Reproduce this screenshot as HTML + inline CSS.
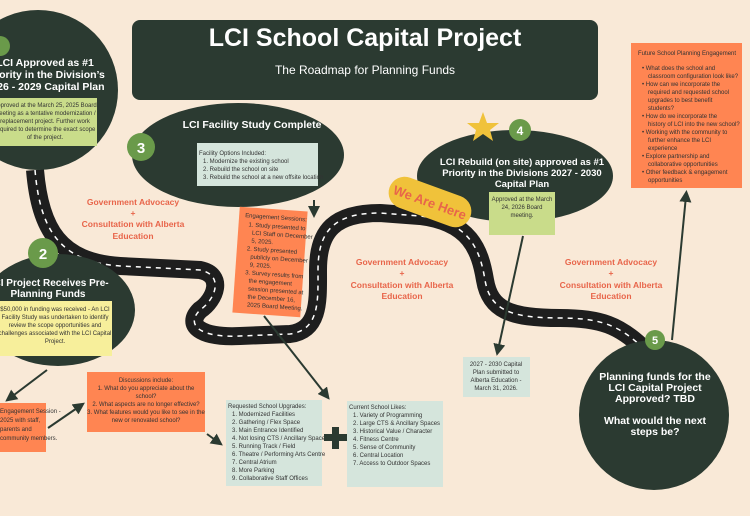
<!DOCTYPE html>
<html><head><meta charset="utf-8"><style>
body{margin:0;background:#f9e9d7;}
svg{display:block;font-family:"Liberation Sans",sans-serif;}
.w{fill:#fff;font-weight:bold;text-anchor:middle}
.s{fill:#e8654a;font-weight:bold;font-size:8.5px;text-anchor:middle}
.t{font-size:6px;fill:#333}
</style></head><body>
<svg width="750" height="516" viewBox="0 0 750 516">
<rect width="750" height="516" fill="#f9e9d7"/>
<defs><marker id="a" markerWidth="6" markerHeight="6" refX="3" refY="3" orient="auto"><path d="M0,0L6,3L0,6z" fill="#2b3a31"/></marker></defs>
<path d="M35,170 C40,230 60,262 120,266 L200,270 C225,275 215,300 200,310 C185,325 200,338 240,336 L290,334 C320,330 318,300 318,270 C318,230 335,213 380,213 L420,216 C470,222 480,250 485,280 C490,310 510,318 560,318 C600,318 620,325 645,350" fill="none" stroke="#1e1e1e" stroke-width="18"/>
<path d="M35,170 C40,230 60,262 120,266 L200,270 C225,275 215,300 200,310 C185,325 200,338 240,336 L290,334 C320,330 318,300 318,270 C318,230 335,213 380,213 L420,216 C470,222 480,250 485,280 C490,310 510,318 560,318 C600,318 620,325 645,350" fill="none" stroke="#fff" stroke-width="1.5" stroke-dasharray="5 5"/>
<rect x="132" y="20" width="466" height="80" rx="8" fill="#2b3a31"/>
<text x="365" y="46" class="w" font-size="25">LCI School Capital Project</text>
<text x="365" y="74" fill="#fff" font-size="12" text-anchor="middle">The Roadmap for Planning Funds</text>
<circle cx="38" cy="90" r="80" fill="#2b3a31"/>
<circle cx="0" cy="46" r="10" fill="#6a9a4a"/>
<text x="45" y="66" class="w" font-size="10.5">LCI Approved as #1</text>
<text x="45" y="78" class="w" font-size="10.5">Priority in the Division’s</text>
<text x="45" y="90" class="w" font-size="10.5">2026 - 2029 Capital Plan</text>
<rect x="-5" y="98" width="102" height="48" fill="#c9dc8a"/>
<g class="t" font-size="5.1" text-anchor="middle"><text x="45" y="107">Approved at the March 25, 2025 Board</text><text x="45" y="115">meeting as a tentative modernization /</text><text x="45" y="123">replacement project. Further work</text><text x="45" y="131">required to determine the exact scope</text><text x="45" y="139">of the project.</text></g>
<ellipse cx="238" cy="155" rx="106" ry="52" fill="#2b3a31"/>
<text x="252" y="128" class="w" font-size="10.5">LCI Facility Study Complete</text>
<circle cx="141" cy="147" r="14" fill="#6a9a4a"/><text x="141" y="153" class="w" font-size="15">3</text>
<rect x="197" y="143" width="121" height="43" fill="#d5e5dc"/>
<g class="t" font-size="4.9"><text x="199" y="155">Facility Options Included:</text><text x="203" y="163">1. Modernize the existing school</text><text x="203" y="171">2. Rebuild the school on site</text><text x="203" y="179">3. Rebuild the school at a new offsite location</text></g>
<line x1="314" y1="200" x2="314" y2="212" stroke="#2b3a31" stroke-width="2" marker-end="url(#a)"/>
<g transform="rotate(4 270 262)"><rect x="236" y="209" width="68" height="106" fill="#ff8552"/>
<g class="t" font-size="5.2"><text x="242" y="219">Engagement Sessions:</text><text x="246" y="228">1. Study presented to</text><text x="250" y="236">LCI Staff on December</text><text x="250" y="244">5, 2025.</text><text x="246" y="252">2. Study presented</text><text x="250" y="260">publicly on December</text><text x="250" y="268">9, 2025.</text><text x="246" y="276">3. Survey results from</text><text x="250" y="284">the engagement</text><text x="250" y="292">session presented at</text><text x="250" y="300">the December 16,</text><text x="250" y="308">2025 Board Meeting.</text></g></g>
<line x1="264" y1="316" x2="326" y2="395" stroke="#2b3a31" stroke-width="2" marker-end="url(#a)"/>
<g class="s"><text x="133" y="205">Government Advocacy</text><text x="133" y="216">+</text><text x="133" y="227">Consultation with Alberta</text><text x="133" y="239">Education</text>
<text x="402" y="265">Government Advocacy</text><text x="402" y="276">+</text><text x="402" y="288">Consultation with Alberta</text><text x="402" y="299">Education</text>
<text x="611" y="265">Government Advocacy</text><text x="611" y="276">+</text><text x="611" y="288">Consultation with Alberta</text><text x="611" y="299">Education</text></g>
<ellipse cx="58" cy="310" rx="77" ry="56" fill="#2b3a31"/>
<circle cx="43" cy="253" r="15" fill="#6a9a4a"/><text x="43" y="259" class="w" font-size="15">2</text>
<text x="48" y="286" class="w" font-size="10">LCI Project Receives Pre-</text>
<text x="48" y="297" class="w" font-size="10">Planning Funds</text>
<rect x="-5" y="301" width="117" height="55" fill="#f7ef9b"/>
<g class="t" font-size="5.1" text-anchor="middle"><text x="55" y="311">$50,000 in funding was received - An LCI</text><text x="55" y="319">Facility Study was undertaken to identify</text><text x="55" y="327">review the scope opportunities and</text><text x="55" y="335">challenges associated with the LCI Capital</text><text x="55" y="343">Project.</text></g>
<line x1="47" y1="370" x2="10" y2="398" stroke="#2b3a31" stroke-width="2" marker-end="url(#a)"/>
<rect x="-5" y="403" width="51" height="49" fill="#ff8552"/>
<g class="t" font-size="5.3"><text x="0" y="413">Engagement Session -</text><text x="0" y="422">2025 with staff,</text><text x="0" y="431">parents and</text><text x="0" y="440">community members.</text></g>
<line x1="48" y1="428" x2="80" y2="406" stroke="#2b3a31" stroke-width="2" marker-end="url(#a)"/>
<rect x="87" y="372" width="118" height="60" fill="#ff8552"/>
<g class="t" font-size="5.3" text-anchor="middle"><text x="146" y="382">Discussions include:</text><text x="146" y="390">1. What do you appreciate about the</text><text x="146" y="398">school?</text><text x="146" y="406">2. What aspects are no longer effective?</text><text x="146" y="414">3. What features would you like to see in the</text><text x="146" y="422">new or renovated school?</text></g>
<line x1="207" y1="434" x2="218" y2="442" stroke="#2b3a31" stroke-width="2" marker-end="url(#a)"/>
<rect x="226" y="400" width="96" height="86" fill="#d5e5dc"/>
<g class="t" font-size="5"><text x="228" y="408">Requested School Upgrades:</text><text x="232" y="416">1. Modernized Facilities</text><text x="232" y="424">2. Gathering / Flex Space</text><text x="232" y="432">3. Main Entrance Identified</text><text x="232" y="440">4. Not losing CTS / Ancillary Space</text><text x="232" y="448">5. Running Track / Field</text><text x="232" y="456">6. Theatre / Performing Arts Centre</text><text x="232" y="464">7. Central Atrium</text><text x="232" y="472">8. More Parking</text><text x="232" y="480">9. Collaborative Staff Offices</text></g>
<path d="M324,434h8v-7h7v7h8v7h-8v8h-7v-8h-8z" fill="#2b3a31"/>
<rect x="347" y="401" width="96" height="86" fill="#d5e5dc"/>
<g class="t" font-size="5"><text x="349" y="409">Current School Likes:</text><text x="353" y="417">1. Variety of Programming</text><text x="353" y="425">2. Large CTS &amp; Ancillary Spaces</text><text x="353" y="433">3. Historical Value / Character</text><text x="353" y="441">4. Fitness Centre</text><text x="353" y="449">5. Sense of Community</text><text x="353" y="457">6. Central Location</text><text x="353" y="465">7. Access to Outdoor Spaces</text></g>
<ellipse cx="515" cy="176" rx="98" ry="46" fill="#2b3a31"/>
<path d="M483,112l4,11 12,0 -9,7 3,11 -10,-7 -10,7 3,-11 -9,-7 12,0z" fill="#f0c23a"/>
<circle cx="520" cy="130" r="11" fill="#6a9a4a"/><text x="520" y="135" class="w" font-size="12">4</text>
<text x="522" y="165" class="w" font-size="9.5">LCI Rebuild (on site) approved as #1</text>
<text x="522" y="176" class="w" font-size="9.5">Priority in the Divisions 2027 - 2030</text>
<text x="522" y="187" class="w" font-size="9.5">Capital Plan</text>
<rect x="489" y="192" width="66" height="43" fill="#c9dc8a"/>
<g class="t" font-size="5.1" text-anchor="middle"><text x="522" y="201">Approved at the March</text><text x="522" y="209">24, 2026 Board</text><text x="522" y="217">meeting.</text></g>
<g transform="rotate(20 430 202)"><rect x="387" y="186" width="86" height="32" rx="16" fill="#f0c23a"/><text x="430" y="207" fill="#e8654a" font-weight="bold" font-size="13" text-anchor="middle">We Are Here</text></g>
<line x1="523" y1="236" x2="498" y2="350" stroke="#2b3a31" stroke-width="2" marker-end="url(#a)"/>
<rect x="463" y="357" width="67" height="40" fill="#d5e5dc"/>
<g class="t" font-size="5" text-anchor="middle"><text x="496" y="366">2027 - 2030 Capital</text><text x="496" y="374">Plan submitted to</text><text x="496" y="382">Alberta Education -</text><text x="496" y="390">March 31, 2026.</text></g>
<circle cx="654" cy="415" r="75" fill="#2b3a31"/>
<circle cx="655" cy="340" r="10" fill="#6a9a4a"/><text x="655" y="344" class="w" font-size="11">5</text>
<g class="w" font-size="10.5"><text x="655" y="380">Planning funds for the</text><text x="655" y="391">LCI Capital Project</text><text x="655" y="402">Approved? TBD</text><text x="655" y="424">What would the next</text><text x="655" y="435">steps be?</text></g>
<line x1="672" y1="340" x2="686" y2="196" stroke="#2b3a31" stroke-width="2" marker-end="url(#a)"/>
<rect x="631" y="43" width="111" height="145" fill="#ff8552"/>
<g class="t" font-size="5.1"><text x="638" y="55">Future School Planning Engagement</text>
<text x="642" y="70">•  What does the school and</text><text x="648" y="78">classroom configuration look like?</text>
<text x="642" y="86">•  How can we incorporate the</text><text x="648" y="94">required and requested school</text><text x="648" y="102">upgrades to best benefit</text><text x="648" y="110">students?</text>
<text x="642" y="118">•  How do we incorporate the</text><text x="648" y="126">history of LCI into the new school?</text>
<text x="642" y="134">•  Working with the community to</text><text x="648" y="142">further enhance the LCI</text><text x="648" y="150">experience</text>
<text x="642" y="158">•  Explore partnership and</text><text x="648" y="166">collaborative opportunities</text>
<text x="642" y="174">•  Other feedback &amp; engagement</text><text x="648" y="182">opportunities</text></g>
</svg>
</body></html>
